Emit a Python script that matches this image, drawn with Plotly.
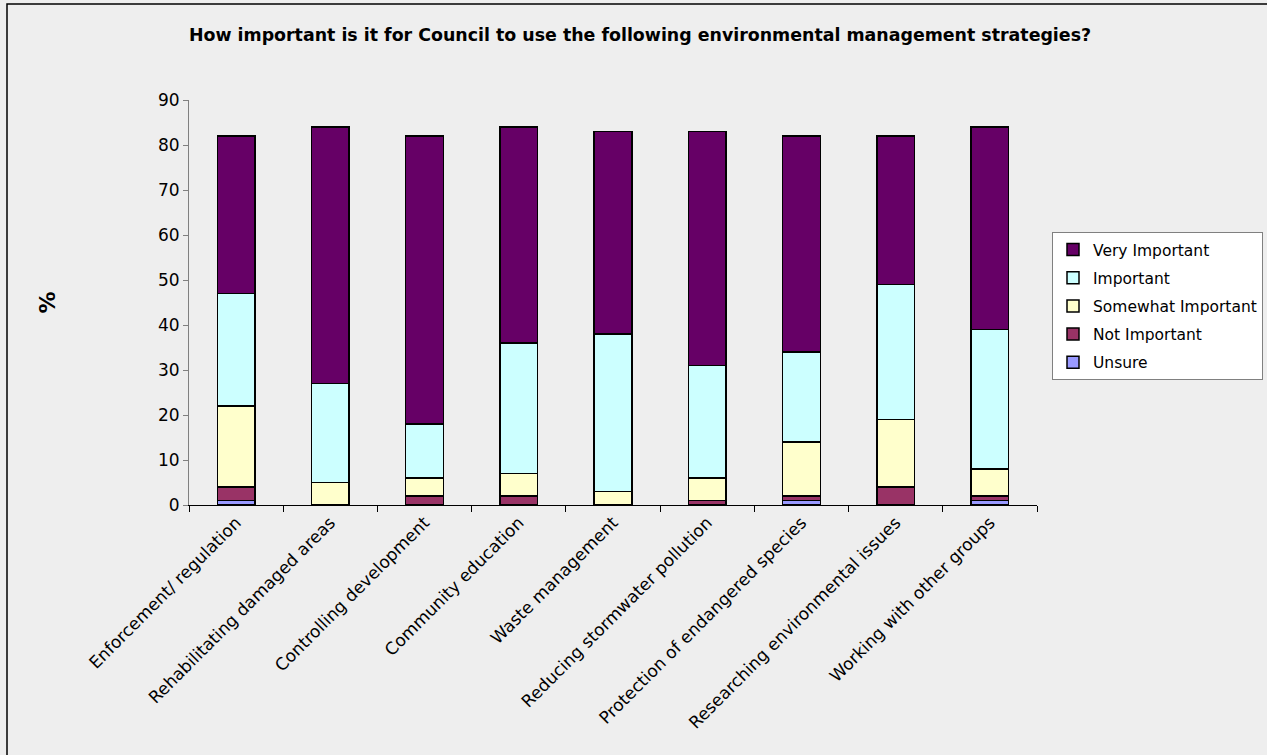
import plotly.graph_objects as go

categories = [
    "Enforcement/ regulation",
    "Rehabilitating damaged areas",
    "Controlling development",
    "Community education",
    "Waste management",
    "Reducing stormwater pollution",
    "Protection of endangered species",
    "Researching environmental issues",
    "Working with other groups",
]

unsure = [1, 0, 0, 0, 0, 0, 1, 0, 1]
not_important = [3, 0, 2, 2, 0, 1, 1, 4, 1]
somewhat_important = [18, 5, 4, 5, 3, 5, 12, 15, 6]
important = [25, 22, 12, 29, 35, 25, 20, 30, 31]
very_important = [35, 57, 64, 48, 45, 52, 48, 33, 45]

# stacked bottom-to-top; legend lists them top-to-bottom
series = [
    ("Unsure", unsure, "#9999FF"),
    ("Not Important", not_important, "#993366"),
    ("Somewhat Important", somewhat_important, "#FFFFCC"),
    ("Important", important, "#CCFFFF"),
    ("Very Important", very_important, "#660066"),
]

W, H = 1267, 755
L, R, T, B = 189, 230, 100, 250
pw, ph = W - L - R, H - T - B

fig = go.Figure()
for i, (name, vals, color) in enumerate(series):
    fig.add_trace(go.Bar(
        name=name, x=categories, y=vals,
        marker=dict(color=color, line=dict(color="#000000", width=1.5)),
        legendgroup=name,
        legendrank=1000 - i,
    ))

BG = "#EEEEEE"
tick_font = dict(family="Tahoma, 'DejaVu Sans', sans-serif", size=17, color="#000000")

fig.update_layout(
    width=W, height=H,
    margin=dict(l=L, r=R, t=T, b=B, autoexpand=False),
    barmode="stack",
    bargap=0.6,
    paper_bgcolor=BG,
    plot_bgcolor=BG,
    font=tick_font,
    title=dict(
        text="<b>How important is it for Council to use the following environmental management strategies?</b>",
        x=640 / W, xanchor="center", xref="container",
        y=1 - 35 / H, yanchor="middle",
        font=dict(family="'DejaVu Sans', Verdana, sans-serif", size=17.4, color="#000000"),
    ),
    xaxis=dict(
        tickangle=-45,
        tickson="boundaries",
        ticks="outside", ticklen=6, tickcolor="#000000",
        showline=True, linecolor="#000000", linewidth=1,
        showgrid=False, zeroline=False,
        tickfont=tick_font,
    ),
    yaxis=dict(
        range=[0, 90], dtick=10,
        ticks="outside", ticklen=5, tickcolor="#808080",
        showline=True, linecolor="#808080", linewidth=1,
        showgrid=False, zeroline=False,
        tickfont=tick_font,
    ),
    legend=dict(
        x=(1052 - L) / pw, xanchor="left",
        y=1 - (232 - T) / ph, yanchor="top",
        bgcolor="#FFFFFF", bordercolor="#808080", borderwidth=1,
        traceorder="grouped", tracegroupgap=5,
        font=dict(family="Tahoma, 'DejaVu Sans', sans-serif", size=15.5, color="#000000"),
        itemwidth=30,
    ),
    showlegend=True,
    annotations=[dict(
        text="<b>%</b>", xref="paper", yref="paper",
        x=(47 - L) / pw, y=0.5, xanchor="center", yanchor="middle",
        textangle=-90, showarrow=False,
        font=dict(family="'DejaVu Sans', Verdana, sans-serif", size=22, color="#000000"),
    )],
    shapes=[dict(
        type="rect", xref="paper", yref="paper",
        x0=(7 - L) / pw, x1=(1290 - L) / pw,
        y0=1 - (780 - T) / ph, y1=1 + (T - 4) / ph,
        line=dict(color="#000000", width=1.5), fillcolor="rgba(0,0,0,0)",
        layer="below",
    )],
)

fig.write_html("out.html")
